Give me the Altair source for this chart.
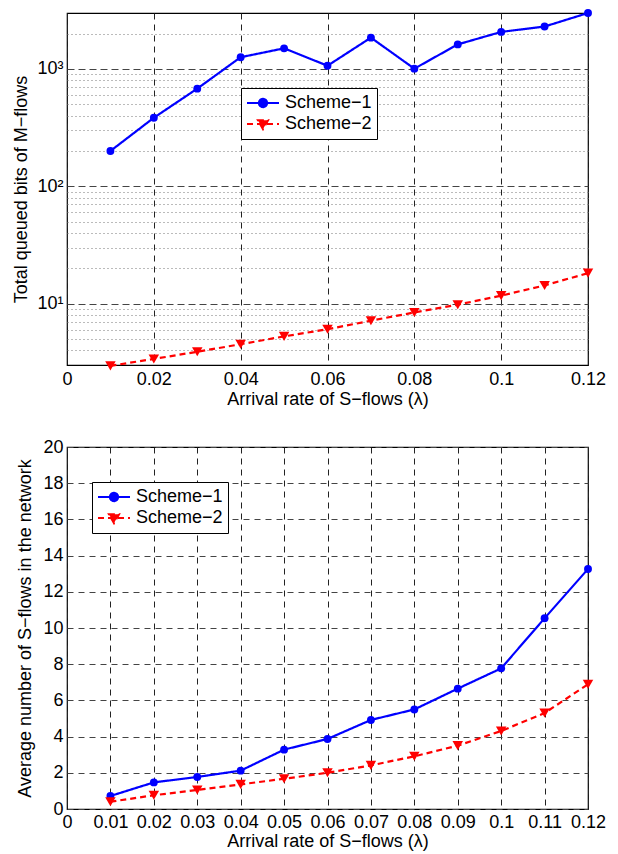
import altair as alt
import pandas as pd

# ---------------- data ----------------
lam = [0.01, 0.02, 0.03, 0.04, 0.05, 0.06, 0.07, 0.08, 0.09, 0.10, 0.11, 0.12]
bits_scheme1 = [200, 384, 680, 1260, 1500, 1066, 1850, 1006, 1620, 2070, 2300, 3000]
bits_scheme2 = [2.95, 3.38, 3.89, 4.51, 5.26, 6.05, 7.16, 8.41, 9.8, 11.7, 14.3, 18.2]
num_scheme1 = [0.72, 1.47, 1.77, 2.12, 3.28, 3.87, 4.92, 5.50, 6.65, 7.77, 10.54, 13.26]
num_scheme2 = [0.40, 0.76, 1.05, 1.36, 1.67, 2.00, 2.41, 2.91, 3.50, 4.31, 5.30, 6.89]

series = ["Scheme\u22121", "Scheme\u22122"]
x_ticks_top = [0, 0.02, 0.04, 0.06, 0.08, 0.1, 0.12]
x_ticks_bottom = [0, 0.01, 0.02, 0.03, 0.04, 0.05, 0.06, 0.07, 0.08, 0.09, 0.1, 0.11, 0.12]
y_ticks_bottom = [0, 2, 4, 6, 8, 10, 12, 14, 16, 18, 20]
y_major_top = [10, 100, 1000]
y_minor_top = [4, 5, 6, 7, 8, 9, 20, 30, 40, 50, 60, 70, 80, 90,
               200, 300, 400, 500, 600, 700, 800, 900, 2000]

FONT = "Liberation Sans"
FS = 18
colors = ["#0000FF", "#FF0000"]
dashes = [[1, 0], [6, 4]]
legend_paths = [
    "M-1,0L1,0M0.26,0A0.26,0.26,0,1,1,-0.26,0A0.26,0.26,0,1,1,0.26,0Z",
    "M-1,0L1,0M-0.32,-0.24L0.32,-0.24L0,0.32Z",
]


def long_df(v1, v2):
    rows = []
    for x, a, b in zip(lam, v1, v2):
        rows.append({"lam": x, "value": a, "scheme": series[0]})
        rows.append({"lam": x, "value": b, "scheme": series[1]})
    return pd.DataFrame(rows)


def panel(df, x_enc, y_enc, lx, ly, w, h):
    base = alt.Chart(df)
    color_sc = alt.Scale(domain=series, range=colors)
    dash_sc = alt.Scale(domain=series, range=dashes)

    leg = dict(orient="none", legendX=lx, legendY=ly, title=None, fillColor="white",
               strokeColor="black", padding=5, labelFont=FONT, labelFontSize=FS,
               labelColor="black", symbolSize=1024, symbolStrokeWidth=2, labelOffset=5,
               clipHeight=20, rowPadding=1)
    legend_layer = base.transform_filter("datum.lam < 0").mark_point(
        filled=True, opacity=1, strokeWidth=2, size=1024).encode(
        x=x_enc, y=y_enc,
        color=alt.Color("scheme:N", scale=color_sc, legend=alt.Legend(**leg)),
        stroke=alt.Stroke("scheme:N", scale=alt.Scale(domain=series, range=colors), legend=alt.Legend(**leg)),
        shape=alt.Shape("scheme:N", scale=alt.Scale(domain=series, range=legend_paths), legend=alt.Legend(**leg)),
        strokeDash=alt.StrokeDash("scheme:N", scale=dash_sc, legend=alt.Legend(**leg)),
    )

    color_enc = alt.Color("scheme:N", scale=color_sc)
    line = base.mark_line(strokeWidth=2.2).encode(
        x=x_enc, y=y_enc, color=color_enc, strokeDash=alt.StrokeDash("scheme:N", scale=dash_sc))
    pts1 = base.transform_filter(alt.datum.scheme == series[0]).mark_point(
        filled=True, opacity=1, size=62, shape="circle").encode(x=x_enc, y=y_enc, color=color_enc)
    pts2 = base.transform_filter(alt.datum.scheme == series[1]).mark_point(
        filled=True, opacity=1, size=110, shape="triangle-down").encode(x=x_enc, y=y_enc, color=color_enc)

    return alt.layer(legend_layer, line, pts1, pts2).properties(width=w, height=h)


# ---------- top panel ----------
df_top = long_df(bits_scheme1, bits_scheme2)
x_top = alt.X("lam:Q", scale=alt.Scale(domain=[0, 0.12], nice=False, zero=False),
              axis=alt.Axis(values=x_ticks_top, format=".3~g", title="Arrival rate of S\u2212flows (\u03bb)",
                            grid=True, gridDash=[6, 5], gridColor="#222", ticks=False, domain=False,
                            labelPadding=5, titlePadding=2, labelOverlap=False, labelFlush=False))
major_test = "datum.value == 10 || datum.value == 100 || datum.value == 1000"
y_top = alt.Y("value:Q", scale=alt.Scale(type="log", domain=[3, 3000], nice=False),
              axis=alt.Axis(values=sorted(y_major_top + y_minor_top),
                            labelExpr="datum.value == 1000 ? '10\u00b3' : datum.value == 100 ? '10\u00b2' : datum.value == 10 ? '10\u00b9' : ''",
                            labelOverlap=False, labelFlush=False, title="Total queued bits of M\u2212flows",
                            grid=True,
                            gridDash={"condition": {"test": major_test, "value": [7, 4]}, "value": [1, 3]},
                            gridColor={"condition": {"test": major_test, "value": "#444"}, "value": "#777"},
                            ticks=False, domain=False, labelPadding=4, titlePadding=6))
top = panel(df_top, x_top, y_top, 174, 75, 521, 352)

# ---------- bottom panel ----------
df_bot = long_df(num_scheme1, num_scheme2)
x_bot = alt.X("lam:Q", scale=alt.Scale(domain=[0, 0.12], nice=False, zero=False),
              axis=alt.Axis(values=x_ticks_bottom, format=".3~g", title="Arrival rate of S\u2212flows (\u03bb)",
                            grid=True, gridDash=[6, 5], gridColor="#222", ticks=False, domain=False,
                            labelPadding=4, titlePadding=1, labelOverlap=False, labelFlush=False))
y_bot = alt.Y("value:Q", scale=alt.Scale(domain=[0, 20], nice=False),
              axis=alt.Axis(values=y_ticks_bottom, title="Average number of S\u2212flows in the network",
                            grid=True, gridDash=[6, 5], gridColor="#444", ticks=False, domain=False,
                            labelPadding=4, titlePadding=8, labelFlush=False))
bottom = panel(df_bot, x_bot, y_bot, 25, 35, 521, 362)

chart = alt.vconcat(top, bottom, spacing=28).resolve_scale(
    color="independent", stroke="independent", shape="independent", strokeDash="independent"
).resolve_legend(
    color="independent", stroke="independent", shape="independent", strokeDash="independent"
).configure(
    padding={"left": 4, "top": 0, "right": 0, "bottom": 0}, background="white"
).configure_view(stroke="black", strokeWidth=1.2).configure_axis(
    labelFont=FONT, titleFont=FONT, labelFontSize=FS, titleFontSize=FS,
    titleFontWeight="normal", labelColor="black", titleColor="black"
)

chart.save("out.html", embed_options={"renderer": "svg", "actions": False})
